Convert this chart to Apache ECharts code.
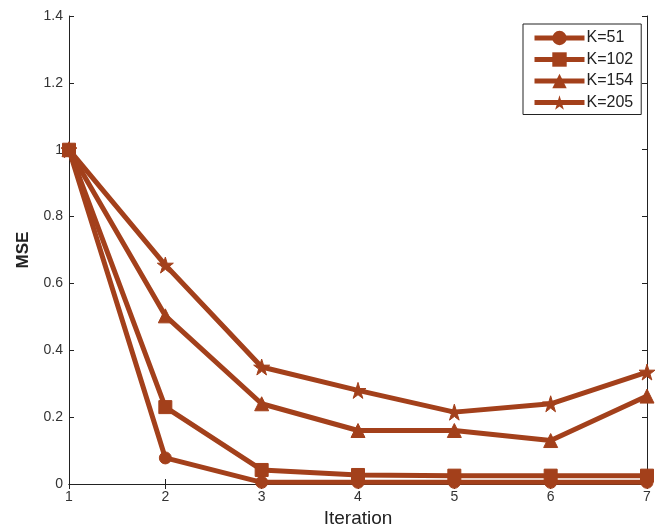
<!DOCTYPE html>
<html><head><meta charset="utf-8">
<script src="https://cdn.jsdelivr.net/npm/echarts@6/dist/echarts.min.js"></script>
<style>html,body{margin:0;padding:0;background:#fff}#c{width:655px;height:527px}</style>
</head><body><div id="c"></div>
<script>
const iterations = [1, 2, 3, 4, 5, 6, 7];
const k51  = [1, 0.078, 0.005, 0.005, 0.005, 0.005, 0.005];
const k102 = [1, 0.23, 0.042, 0.027, 0.025, 0.025, 0.025];
const k154 = [1, 0.503, 0.24, 0.16, 0.16, 0.13, 0.263];
const k205 = [1, 0.655, 0.35, 0.28, 0.215, 0.24, 0.335];
const seriesNames = ['K=51', 'K=102', 'K=154', 'K=205'];

const color = '#A3401B';
const star = 'path://M50,0 L61,35 L98,35 L68,57 L79,91 L50,70 L21,91 L32,57 L2,35 L39,35 Z';
const symbols = ['circle', 'rect', 'triangle', star];
const sizes = [12, 13, 14, 16];
const datas = [k51, k102, k154, k205];

const chart = echarts.init(document.getElementById('c'));
const tickStyle = {fontFamily: 'Liberation Sans', fontSize: 14, color: '#333'};
chart.setOption({
  animation: false,
  grid: {left: 69, right: 8, top: 16, bottom: 43, containLabel: false, outerBoundsMode: 'none'},
  legend: {
    left: 523, top: 24, orient: 'vertical',
    backgroundColor: '#fff', borderColor: '#222', borderWidth: 1,
    padding: [6, 8, 4, 9], itemGap: 5.5, itemWidth: 50, itemHeight: 18,
    lineStyle: {width: 5},
    textStyle: {fontFamily: 'Liberation Sans', fontSize: 16, color: '#222', padding: [0, 0, 0, -3]},
    data: seriesNames
  },
  xAxis: [{
    type: 'value', min: 1, max: 7, interval: 1,
    name: 'Iteration', nameLocation: 'middle', nameGap: 19,
    nameTextStyle: {fontFamily: 'Liberation Sans', fontSize: 19, color: '#222'},
    axisLine: {lineStyle: {color: '#222', width: 1}},
    axisTick: {inside: true, length: 5, lineStyle: {color: '#222'}},
    axisLabel: Object.assign({margin: 6}, tickStyle),
    splitLine: {show: false}
  }, {
    type: 'value', min: 1, max: 7, interval: 1, position: 'top',
    axisLine: {show: true, lineStyle: {color: '#222', width: 1}},
    axisTick: {inside: true, length: 5, lineStyle: {color: '#222'}},
    axisLabel: {show: false}, splitLine: {show: false}
  }],
  yAxis: [{
    type: 'value', min: 0, max: 1.4, interval: 0.2,
    name: 'MSE', nameLocation: 'middle', nameGap: 37, nameRotate: 90,
    nameTextStyle: {fontFamily: 'Liberation Sans', fontSize: 17, fontWeight: 'bold', color: '#222'},
    axisLine: {show: true, lineStyle: {color: '#222', width: 1}},
    axisTick: {show: true, inside: true, length: 5, lineStyle: {color: '#222'}},
    axisLabel: Object.assign({margin: 6, formatter: v => String(Math.round(v * 10) / 10)}, tickStyle),
    splitLine: {show: false}
  }, {
    type: 'value', min: 0, max: 1.4, interval: 0.2, position: 'right',
    axisLine: {show: true, lineStyle: {color: '#222', width: 1}},
    axisTick: {show: true, inside: true, length: 5, lineStyle: {color: '#222'}},
    axisLabel: {show: false}, splitLine: {show: false}
  }],
  series: seriesNames.map((n, i) => ({
    name: n, type: 'line', xAxisIndex: 0, yAxisIndex: 0,
    data: iterations.map((x, j) => [x, datas[i][j]]),
    symbol: symbols[i], symbolSize: sizes[i], showAllSymbol: true,
    lineStyle: {color: color, width: 5},
    itemStyle: {color: color, borderColor: color},
    clip: false, z: 3 + i
  }))
});
</script></body></html>
